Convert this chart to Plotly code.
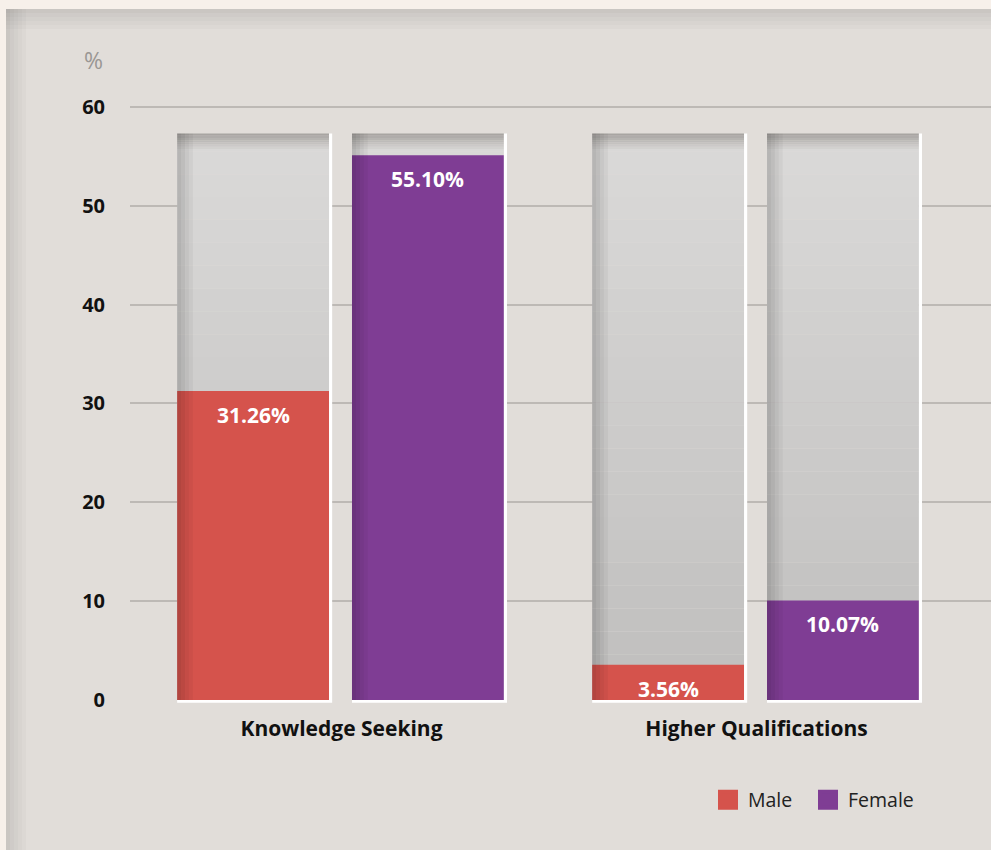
import plotly.graph_objects as go

# ---------------- data ----------------
categories = ["Knowledge Seeking", "Higher Qualifications"]
series_names = ["Male", "Female"]
male_values = [31.26, 3.56]
female_values = [55.10, 10.07]
track_top = [57.3, 57.3]          # height of the grey "full" track behind each bar
y_tick_values = [0, 10, 20, 30, 40, 50, 60]
y_unit_label = "%"

# ---------------- styling ----------------
W, H = 991, 850
ML, MR, MT, MB = 130, 0, 87, 146
PAPER_BG = "#f7f0ea"
PANEL_BG = "#e1ddd9"
GRID = "#bdb9b5"
COLORS = ["#d5534c", "#7f3d94"]
FONT = "Open Sans"
BAR_W = 0.366
OFFSETS = [-0.396, 0.0253]
X_RANGE = [-0.5096, 1.565]
Y_RANGE = [-0.4, 62]
LEGEND_X_PX = [708, 808]

def px2paper_x(px):
    return (px - ML) / (W - ML - MR)

def px2paper_y(py):
    return (H - MB - py) / (H - MT - MB)

def mix(c1, c2, t):
    return "rgb(%d,%d,%d)" % tuple(round(a + (b - a) * t) for a, b in zip(c1, c2))

fig = go.Figure()

xs = [c for c in categories for _ in series_names]
offs = [OFFSETS[j] for _ in categories for j in range(len(series_names))]
tops = [track_top[i] for i in range(len(categories)) for _ in series_names]

# grey track drawn as a vertical gradient of thin stacked bands
main_top = min(tops) - 1.8
n_main = 24
bottom_c, mid_c, top_c = (192, 191, 190), (217, 216, 215), (168, 165, 162)
for k in range(n_main):
    b = main_top * k / n_main
    h = main_top / n_main
    fig.add_trace(go.Bar(x=xs, y=[h] * len(xs), base=[b] * len(xs), offset=offs, width=BAR_W,
                         marker=dict(color=mix(bottom_c, mid_c, k / (n_main - 1)), line_width=0),
                         showlegend=False, hoverinfo="skip"))
n_top = 8
for k in range(n_top):
    b = [main_top + (t - main_top) * k / n_top for t in tops]
    h = [(t - main_top) / n_top for t in tops]
    fig.add_trace(go.Bar(x=xs, y=h, base=b, offset=offs, width=BAR_W,
                         marker=dict(color=mix(mid_c, top_c, k / (n_top - 1)), line_width=0),
                         showlegend=False, hoverinfo="skip"))

# coloured value bars
for j, (name, vals) in enumerate(zip(series_names, [male_values, female_values])):
    fig.add_trace(go.Bar(x=categories, y=vals, name=name, offset=OFFSETS[j], width=BAR_W,
                         marker=dict(color=COLORS[j], line_width=0), showlegend=False,
                         hovertemplate="%{x}<br>" + name + ": %{y:.2f}%<extra></extra>"))

# left-edge shading strips
strip_w = 0.0095
for s, a in enumerate([0.16, 0.12, 0.08, 0.04]):
    fig.add_trace(go.Bar(x=xs, y=tops, base=[0] * len(xs),
                         offset=[o + s * strip_w for o in offs], width=strip_w,
                         marker=dict(color="rgba(0,0,0,%.2f)" % a, line_width=0),
                         showlegend=False, hoverinfo="skip"))

# white right edge and bottom edge
edge_w = 0.0075
fig.add_trace(go.Bar(x=xs, y=tops, base=[0] * len(xs), offset=[o + BAR_W for o in offs], width=edge_w,
                     marker=dict(color="white", line_width=0), showlegend=False, hoverinfo="skip"))
fig.add_trace(go.Bar(x=xs, y=[0.28] * len(xs), base=[-0.28] * len(xs), offset=offs, width=BAR_W + edge_w,
                     marker=dict(color="white", line_width=0), showlegend=False, hoverinfo="skip"))

# legend entries (larger square swatches), one legend box per series
legend_ids = ["legend", "legend2"]
for j, name in enumerate(series_names):
    fig.add_trace(go.Scatter(x=[None], y=[None], mode="markers", name=name, legend=legend_ids[j],
                             marker=dict(symbol="square", size=16, color=COLORS[j],
                                         line=dict(color=COLORS[j], width=4)),
                             hoverinfo="skip"))

# value labels
for j, vals in enumerate([male_values, female_values]):
    for i, v in enumerate(vals):
        fig.add_annotation(x=i + OFFSETS[j] + BAR_W / 2, y=v, xref="x", yref="y",
                           text="<b>%.2f%%</b>" % v, showarrow=False, yanchor="top", yshift=-8,
                           font=dict(family=FONT, size=21, color="white"))

# unit label
fig.add_annotation(x=px2paper_x(105), y=px2paper_y(60), xref="paper", yref="paper", text=y_unit_label,
                   showarrow=False, xanchor="right", yanchor="middle",
                   font=dict(family=FONT, size=23, color="#9a9794"))

# panel background + shadows
shapes = [dict(type="rect", xref="paper", yref="paper", layer="below",
               x0=px2paper_x(6), x1=px2paper_x(W + 5), y0=px2paper_y(H + 5), y1=px2paper_y(9),
               fillcolor=PANEL_BG, line_width=0)]
for k, a in enumerate([0.10, 0.08, 0.06, 0.04, 0.02]):
    shapes.append(dict(type="rect", xref="paper", yref="paper", layer="below",
                       x0=px2paper_x(6 + 4 * k), x1=px2paper_x(10 + 4 * k), y0=px2paper_y(H + 5), y1=px2paper_y(9),
                       fillcolor="rgba(0,0,0,%.2f)" % a, line_width=0))
    shapes.append(dict(type="rect", xref="paper", yref="paper", layer="below",
                       x0=px2paper_x(6), x1=px2paper_x(W + 5), y0=px2paper_y(13 + 4 * k), y1=px2paper_y(9 + 4 * k),
                       fillcolor="rgba(0,0,0,%.2f)" % a, line_width=0))

legend_style = dict(orientation="h", y=px2paper_y(800), xanchor="left", yanchor="middle",
                    bgcolor="rgba(0,0,0,0)", font=dict(family=FONT, size=19.5, color="#222"),
                    itemwidth=30)

fig.update_layout(
    width=W, height=H, margin=dict(l=ML, r=MR, t=MT, b=MB, autoexpand=False),
    paper_bgcolor=PAPER_BG, plot_bgcolor=PANEL_BG,
    barmode="overlay", shapes=shapes,
    font=dict(family=FONT, color="#111"),
    legend=dict(x=px2paper_x(LEGEND_X_PX[0]), **legend_style),
    legend2=dict(x=px2paper_x(LEGEND_X_PX[1]), **legend_style),
    xaxis=dict(range=X_RANGE, showgrid=False, zeroline=False, showline=False, ticks="",
               ticklabelstandoff=10, tickfont=dict(family=FONT, size=21, color="#111", weight="bold")),
    yaxis=dict(range=Y_RANGE, tickvals=y_tick_values, showgrid=True, gridcolor=GRID, gridwidth=2,
               zeroline=True, zerolinecolor=PANEL_BG, zerolinewidth=3, showline=False, ticks="",
               ticklabelstandoff=24, tickfont=dict(family=FONT, size=20, color="#111", weight="bold")),
)

fig.write_html("out.html", config={"displayModeBar": False},
               post_script="document.body.style.margin='0';document.body.style.background='%s';" % PAPER_BG)
